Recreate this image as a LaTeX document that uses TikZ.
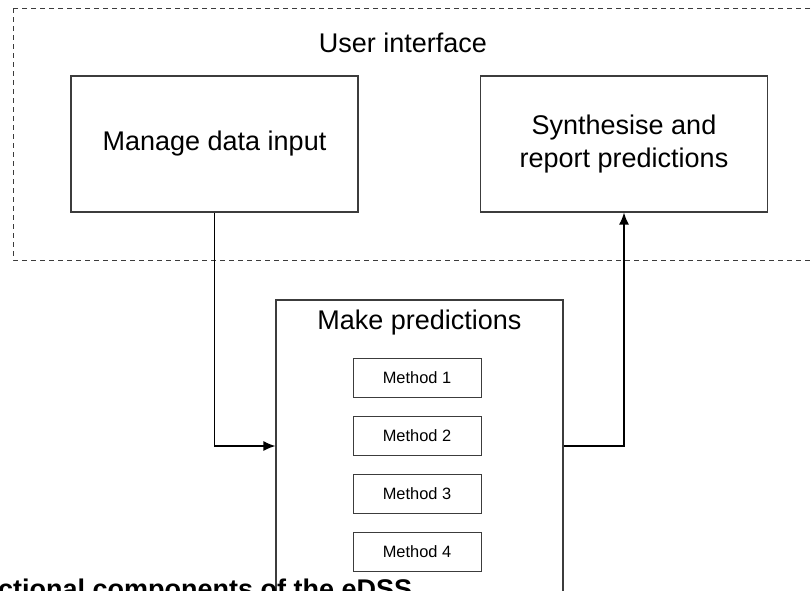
\documentclass[tikz,border=0pt]{standalone}
\usepackage{fontspec}
\setmainfont{Liberation Sans}
\usetikzlibrary{arrows.meta,positioning}
\definecolor{boxgrey}{HTML}{3c3c3c}

\begin{document}
\begin{tikzpicture}[x=1pt,y=-1pt,
    block/.style={draw=boxgrey, line width=1.2pt, minimum width=287pt, minimum height=136pt, align=center, font=\fontsize{27}{33}\selectfont},
    method/.style={draw=boxgrey, line width=1pt, minimum width=128pt, minimum height=39pt, font=\fontsize{16.4}{20}\selectfont},
    flow/.style={line width=1.3pt, -{Latex[length=12pt,width=10pt]}}]
  \useasboundingbox (0,0) rectangle (811,590);
  \clip (0,0) rectangle (811,590);
  % user interface
  \draw[boxgrey, line width=1pt, dash pattern=on 5pt off 4pt] (13,8) rectangle (830,260);
  \node[font=\fontsize{27}{33}\selectfont] (ui) at (403,43) {User interface};
  \node[block] (input) at (214.5,144) {Manage data input};
  \node[block] (synth) at (624,144) {Synthesise and\\report predictions};
  % prediction methods
  \node[block, minimum height=292pt] (pred) at (419.5,446) {};
  \node[font=\fontsize{27}{33}\selectfont] (predtitle) at (419.5,323) {Make predictions};
  \foreach \i/\y in {1/377.5,2/435.5,3/493.5,4/552}
    \node[method] (m\i) at (417,\y) {Method \i};
  \draw[flow] (input.south) |- (pred.west);
  \draw[flow] (pred.east) -| (synth.south);
  \node[anchor=base west, font=\bfseries\fontsize{27}{33}\selectfont] (caption) at (-55,598) {Functional components of the eDSS};
\end{tikzpicture}
\end{document}
